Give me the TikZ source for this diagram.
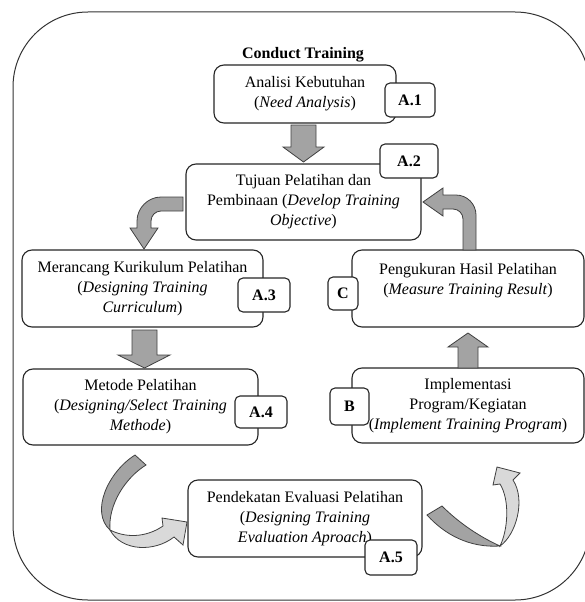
\documentclass[tikz,border=0pt]{standalone}
\usepackage{fontspec}
\setmainfont{Liberation Serif}
\definecolor{arrowgray}{RGB}{163,163,163}
\definecolor{ribbongray}{RGB}{217,217,217}
\begin{document}
\begin{tikzpicture}[x=1pt,y=-1pt,
	every node/.style={font=\fontsize{16}{20}\selectfont},
	box/.style={draw=black!85,line width=1.1pt,rounded corners=10pt,fill=white,align=center,inner sep=0pt},
	tag/.style={draw=black!85,line width=1.1pt,rounded corners=5pt,fill=white,inner sep=0pt,font=\fontsize{16}{20}\selectfont\bfseries},
	blk/.style={draw=black!75,line width=0.8pt,fill=arrowgray},
	ribbon/.style={draw=black!75,line width=0.8pt,fill=ribbongray}]
\useasboundingbox (0,0) rectangle (585,602);
\clip (0,0) rectangle (585,602);
\draw [line width=1pt,black!80,rounded corners=75pt] (13,12) rectangle (590,600);

\node [font=\fontsize{16}{20}\selectfont\bfseries] (title) at (303,55) {Conduct Training};

\node [box,minimum width=182,minimum height=58] (analisi) at (305,94) {Analisi Kebutuhan\\(\textit{Need Analysis})};
\node [box,minimum width=235,minimum height=76] (tujuan) at (303.5,202) {Tujuan Pelatihan dan\\Pembinaan (\textit{Develop Training}\\\textit{Objective})};
\node [box,minimum width=241,minimum height=77] (merancang) at (142.5,288.5) {Merancang Kurikulum Pelatihan\\(\textit{Designing Training}\\\textit{Curriculum})};
\node [box,minimum width=235,minimum height=76] (metode) at (140.5,407) {Metode Pelatihan\\(\textit{Designing/Select Training}\\\textit{Methode})};
\node [box,minimum width=232,minimum height=77] (pengukuran) at (468,288.5) {Pengukuran Hasil Pelatihan\\(\textit{Measure Training Result})\\\mbox{}};
\node [box,minimum width=232,minimum height=75] (implementasi) at (468,405.5) {Implementasi\\Program/Kegiatan\\(\textit{Implement Training Program})};
\node [box,minimum width=234,minimum height=77] (pendekatan) at (305,518.5) {Pendekatan Evaluasi Pelatihan\\(\textit{Designing Training}\\\textit{Evaluation Aproach})};

\draw [blk] (291,125) -- (316,125) -- (316,147) -- (324,147) -- (303.5,162) -- (283,147) -- (291,147) -- cycle;
\draw [blk] (132,330) -- (157,330) -- (157,355) -- (170,355) -- (144.5,368) -- (118,355) -- (132,355) -- cycle;
\draw [blk] (458,368) -- (478,368) -- (478,347) -- (488,347) -- (468,333) -- (448,347) -- (458,347) -- cycle;

\draw [blk] (183,197) -- (161,197) .. controls (148,197) and (137,208) .. (137,221) -- (137,228) -- (130,228) -- (144,249) -- (158,228) -- (151,228) -- (151,221) .. controls (151,215.5) and (155.5,211) .. (161,211) -- (183,211) -- cycle;
\draw [blk] (463,250) -- (463,219) .. controls (463,213.5) and (458.5,209) .. (453,209) -- (443,209) -- (443,216) -- (423,202) -- (443,188) -- (443,195) -- (456,195) .. controls (467,195) and (476,204) .. (476,215) -- (476,250) -- cycle;

\draw [blk] (135,455) .. controls (108,472) and (90,512) .. (110,530) .. controls (108,505) and (125,478) .. (146,465) -- cycle;
\draw [ribbon] (110,530) .. controls (130,540) and (150,535) .. (163,526) -- (162,518) -- (187,522) -- (183,545) -- (174,537) .. controls (155,552) and (122,552) .. (110,530) -- cycle;
\draw [blk] (427,515) .. controls (445,535) and (470,548) .. (500,546) .. controls (478,536) and (458,522) .. (442,506) -- cycle;
\draw [ribbon] (500,546) .. controls (516,535) and (526,500) .. (513,480) -- (520,473) -- (497,467) -- (493,485) -- (500,484) .. controls (510,500) and (508,530) .. (500,546) -- cycle;

\foreach \n/\x/\y/\w/\h/\t in {a1/410/100/50/34/A.1, a2/409/161/58/34/A.2, a3/264/295/52/34/A.3, a4/261/412/52/32/A.4, a5/391/557.5/52/35/A.5, c/343/293.5/30/33/C, b/349.5/406.5/39/37/B}
	\node [tag,minimum width=\w,minimum height=\h] (\n) at (\x,\y) {\t};
\end{tikzpicture}
\end{document}
